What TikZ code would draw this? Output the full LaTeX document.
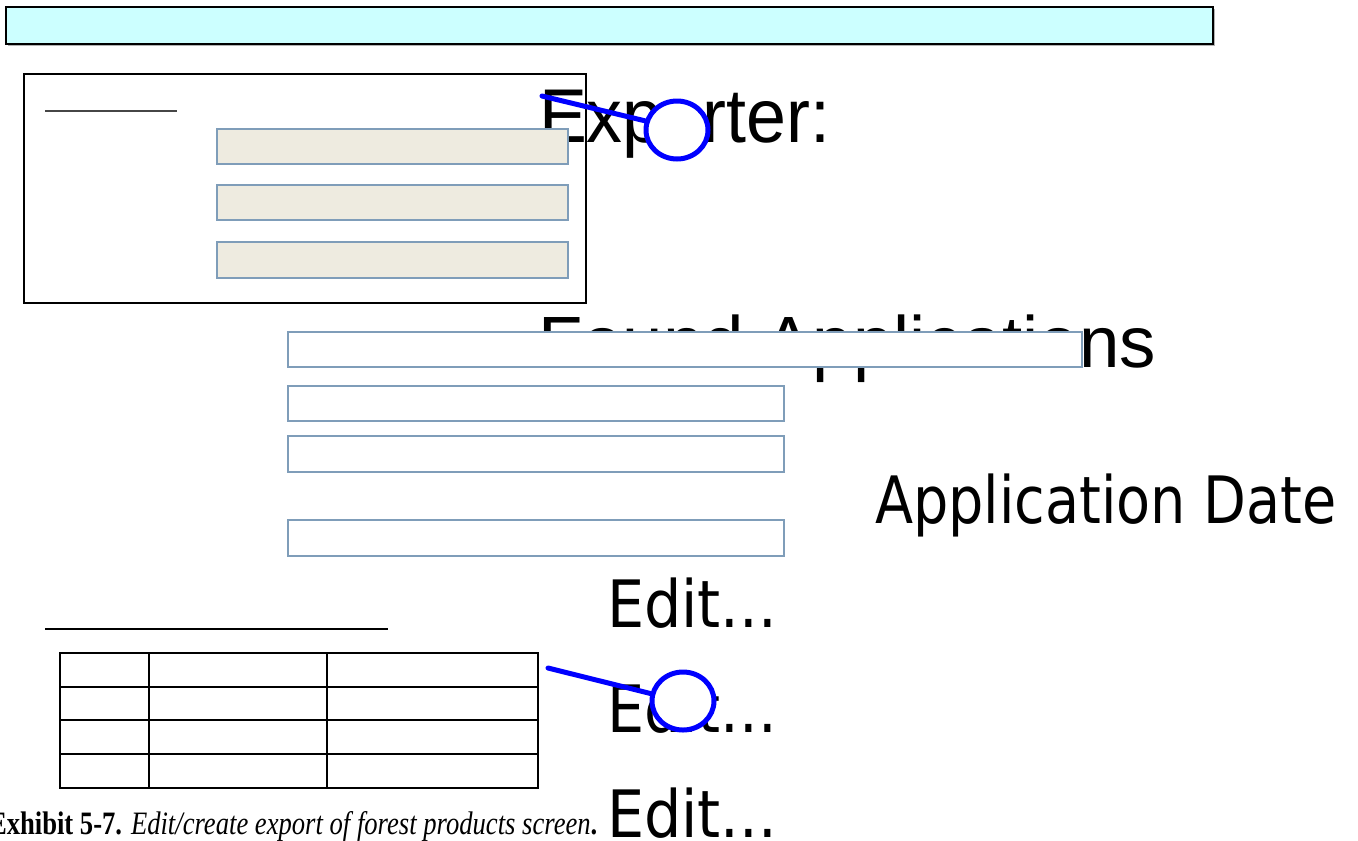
\documentclass[tikz,border=0pt]{standalone}
\usepackage{fontspec}
\setmainfont{Liberation Serif}
\newfontfamily\arialf{Liberation Sans}
\newfontfamily\tahf{DejaVu Sans}
\usetikzlibrary{shapes.geometric}
\definecolor{barcyan}{RGB}{204,255,255}
\definecolor{fieldbd}{RGB}{127,157,185}
\definecolor{fieldbg}{RGB}{238,235,224}
\definecolor{rulegray}{RGB}{70,70,70}
\begin{document}
\begin{tikzpicture}[x=0.75pt,y=-0.75pt,
  lbl/.style={inner sep=0pt,outer sep=0pt,anchor=base west},
  bigarial/.style={lbl,font=\arialf\fontsize{55.5}{60}\selectfont},
  bigtah/.style={lbl,font=\tahf\fontsize{49}{54}\selectfont},
  field/.style={draw=fieldbd,line width=1.5pt},
  beigefield/.style={field,fill=fieldbg},
  whitefield/.style={field,fill=white},
  frame/.style={draw=black,line width=1.5pt},
  grid/.style={draw=black,line width=1.5pt},
  hrule/.style={draw=rulegray,line width=1.5pt},
  marker/.style={ellipse,draw=blue,fill=white,line width=3.75pt,
    minimum width=46.5pt,minimum height=43.5pt,inner sep=0pt},
  pointer/.style={draw=blue,line width=3.75pt,line cap=round}]
\useasboundingbox (0,0) rectangle (1358,840);

% texts (drawn first; boxes cover parts of them)
\node[bigarial] (exporter) at (539,142) {\scalebox{0.97}[1.03]{Exporter:}};
\node[bigarial,font=\arialf\fontsize{54.5}{60}\selectfont] (found) at (538,367) {Found Applications};
\node[bigtah] (appdate) at (875,523) {\scalebox{0.852}[1]{Application Date}};
\node[bigtah] (edit1) at (607,627) {\scalebox{0.9}[1]{Edit...}};
\node[bigtah] (edit2) at (607,732) {\scalebox{0.9}[1]{Edit...}};
\node[bigtah] (edit3) at (607,837) {\scalebox{0.9}[1]{Edit...}};
\node[lbl,font=\fontsize{24.5}{28}\selectfont] (caption) at (-11,834)
  {\scalebox{0.815}[1]{\textbf{Exhibit 5-7.} \textit{Edit/create export of forest products screen}\textbf{.}}};

% title bar
\fill[gray!60] (8,9) rectangle (1215,46);
\draw[frame,fill=barcyan] (6,7) rectangle (1213,44);

% upper panel
\draw[frame] (24,74) rectangle (586,303);
\draw[hrule] (45,111) -- (177,111);
\draw[beigefield] (217,129) rectangle (568,164);
\draw[beigefield] (217,185) rectangle (568,220);
\draw[beigefield] (217,242) rectangle (568,278);

% white fields
\draw[whitefield] (288,332) rectangle (1082,367);
\draw[whitefield] (288,386) rectangle (784,421);
\draw[whitefield] (288,436) rectangle (784,472);
\draw[whitefield] (288,520) rectangle (784,556);

% lower table
\draw[hrule,draw=black] (45,629) -- (388,629);
\draw[grid] (60,653) rectangle (538,788);
\draw[grid] (60,687) -- (538,687);
\draw[grid] (60,720) -- (538,720);
\draw[grid] (60,754) -- (538,754);
\draw[grid] (149,653) -- (149,788);
\draw[grid] (327,653) -- (327,788);

% blue markers
\node[marker] (c1) at (677,130) {};
\node[marker] (c2) at (683,701) {};
\coordinate (p1) at (542,96);
\coordinate (p2) at (548,668);
\draw[pointer] (p1) -- (c1.164);
\draw[pointer] (p2) -- (c2.167);
\end{tikzpicture}
\end{document}
